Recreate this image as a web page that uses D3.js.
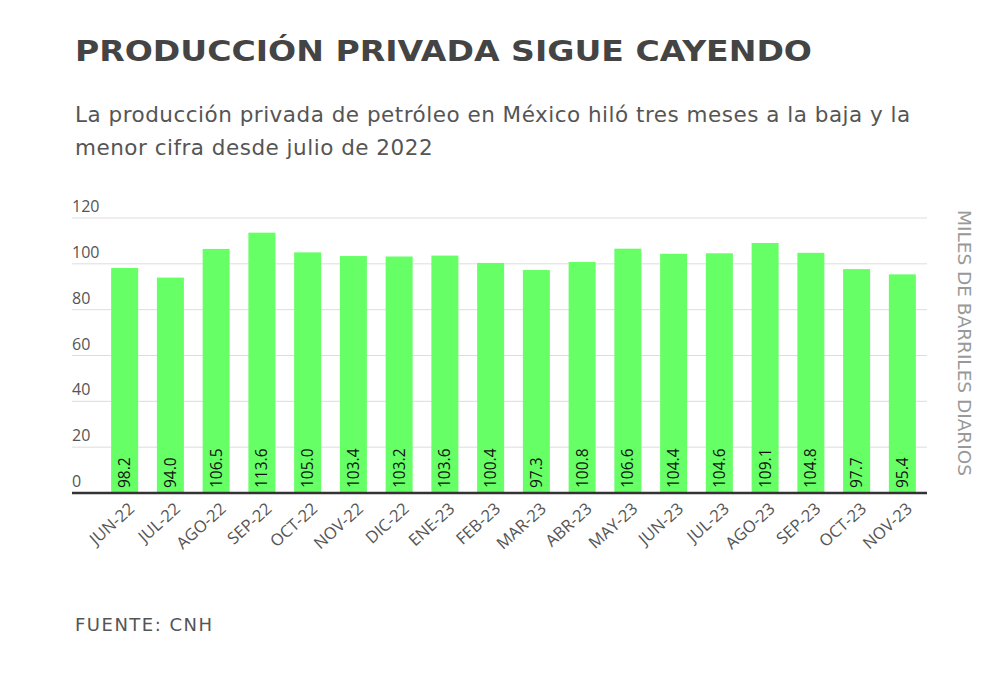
<!DOCTYPE html>
<html>
<head>
<meta charset="utf-8">
<script src="https://cdn.jsdelivr.net/npm/d3@7"></script>
<style>
  body { margin: 0; background: #fff; }
  svg { display: block; }
</style>
</head>
<body>
<svg id="chart" width="1000" height="688"></svg>
<script>
// data
var months = ['JUN-22', 'JUL-22', 'AGO-22', 'SEP-22', 'OCT-22', 'NOV-22', 'DIC-22', 'ENE-23', 'FEB-23',
  'MAR-23', 'ABR-23', 'MAY-23', 'JUN-23', 'JUL-23', 'AGO-23', 'SEP-23', 'OCT-23', 'NOV-23'];
var production = [98.2, 94.0, 106.5, 113.6, 105.0, 103.4, 103.2, 103.6, 100.4,
  97.3, 100.8, 106.6, 104.4, 104.6, 109.1, 104.8, 97.7, 95.4];
var yTicks = [0, 20, 40, 60, 80, 100, 120];

(function() {

var data = months.map(function(m, i) { return {month: m, value: production[i]}; });

// layout
var plotLeft = 72, plotRight = 927, plotTop = 218, plotBottom = 493;

var svg = d3.select('#chart');

var x = d3.scaleBand().domain(months).range([102, 925]).paddingInner(0.41).paddingOuter(0.2);
var y = d3.scaleLinear().domain([0, 120]).range([plotBottom, plotTop]);

// title and subtitle
svg.append('text')
  .attr('x', 75).attr('y', 61)
  .style('font-family', 'DejaVu Sans').style('font-weight', 'bold')
  .style('font-size', '28px').style('fill', '#444')
  .attr('textLength', 737).attr('lengthAdjust', 'spacingAndGlyphs')
  .text('PRODUCCIÓN PRIVADA SIGUE CAYENDO');

var sub = ['La producción privada de petróleo en México hiló tres meses a la baja y la',
  'menor cifra desde julio de 2022'];
svg.selectAll('text.sub')
  .data(sub)
  .enter()
  .append('text')
    .classed('sub', true)
    .attr('x', 75)
    .attr('y', function(d, i) { return 122 + i * 33; })
    .style('font-family', 'DejaVu Sans').style('font-size', '21.5px').style('fill', '#555')
    .style('letter-spacing', '0.5px')
    .text(function(d) { return d; });

// gridlines + y labels
var grid = svg.append('g');
grid.selectAll('line')
  .data(yTicks.filter(function(d) { return d > 0; }))
  .enter()
  .append('line')
    .attr('x1', plotLeft).attr('x2', plotRight)
    .attr('y1', function(d) { return y(d); })
    .attr('y2', function(d) { return y(d); })
    .style('stroke', '#dddddd').style('stroke-width', 1);
grid.selectAll('text')
  .data(yTicks)
  .enter()
  .append('text')
    .attr('x', plotLeft)
    .attr('y', function(d) { return y(d) - 6; })
    .style('font-family', 'Open Sans').style('font-size', '16px').style('fill', '#555')
    .text(function(d) { return d; });

// bars
svg.selectAll('rect.bar')
  .data(data)
  .enter()
  .append('rect')
    .classed('bar', true)
    .attr('x', function(d) { return x(d.month); })
    .attr('y', function(d) { return y(d.value); })
    .attr('width', x.bandwidth())
    .attr('height', function(d) { return y(0) - y(d.value); })
    .style('fill', '#66ff66');

// value labels inside bars
svg.selectAll('text.val')
  .data(data)
  .enter()
  .append('text')
    .classed('val', true)
    .attr('transform', function(d) {
      return 'translate(' + (x(d.month) + x.bandwidth() / 2 + 5.5) + ',' + (y(0) - 5) + ') rotate(-90)';
    })
    .style('font-family', 'Open Sans').style('font-size', '15.5px').style('fill', '#111')
    .text(function(d) { return d.value.toFixed(1); });

// baseline
svg.append('line')
  .attr('x1', plotLeft).attr('x2', plotRight)
  .attr('y1', y(0)).attr('y2', y(0))
  .style('stroke', '#333').style('stroke-width', 2.5);

// x axis labels
svg.append('g')
  .attr('transform', 'translate(0,' + y(0) + ')')
  .call(d3.axisBottom(x).tickSize(0).tickPadding(0))
  .call(function(g) { g.select('.domain').remove(); })
  .selectAll('text')
    .attr('transform', 'translate(7,13) rotate(-42)')
    .attr('dy', '0.35em')
    .style('text-anchor', 'end')
    .style('font-family', 'Open Sans').style('font-size', '16.5px').style('fill', '#555');

// right axis title
svg.append('text')
  .attr('transform', 'translate(958,210) rotate(90)')
  .style('font-family', 'DejaVu Sans').style('font-size', '18.5px').style('fill', '#999')
  .text('MILES DE BARRILES DIARIOS');

// source
svg.append('text')
  .attr('x', 75).attr('y', 631)
  .style('font-family', 'DejaVu Sans').style('font-size', '18px').style('fill', '#555')
  .style('letter-spacing', '1.5px')
  .text('FUENTE: CNH');

})();
</script>
</body>
</html>
